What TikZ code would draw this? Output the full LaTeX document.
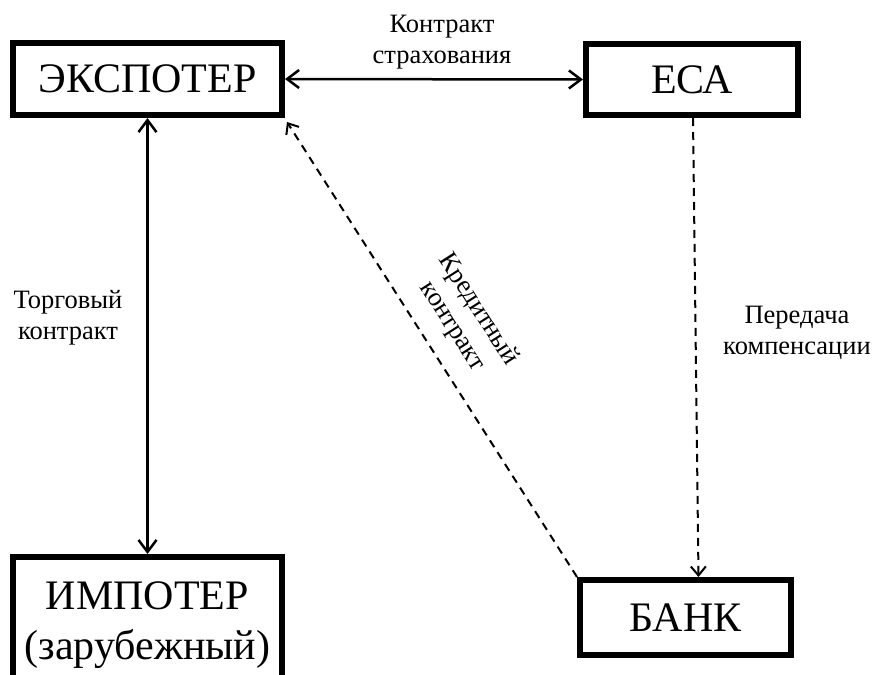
\documentclass[tikz,border=0pt]{standalone}
\usepackage{fontspec}
\setmainfont{Liberation Serif}
\usetikzlibrary{arrows.meta}
\begin{document}
\begin{tikzpicture}[x=1pt,y=-1pt,
  party/.style={draw, line width=6pt, rectangle, inner sep=0pt,
    font=\fontsize{42}{50}\selectfont, align=center},
  caption/.style={font=\fontsize{26.5}{31}\selectfont, align=center, inner sep=0pt},
  solidlink/.style={line width=2.5pt,
    {Straight Barb[length=12pt,width=18pt]}-{Straight Barb[length=12pt,width=18pt]}},
  dashlink/.style={line width=2pt, dash pattern=on 8pt off 6pt,
    -{Straight Barb[length=9pt,width=15pt]}}]
\clip (0,0) rectangle (876,675);

% participants
\node[party, minimum width=269pt, minimum height=72pt] (exp) at (147.5,79) {ЭКСПОТЕР};
\node[party, minimum width=212pt, minimum height=71pt] (eca) at (692,79.5) {ЕСА};
\node[party, minimum width=269pt, minimum height=136pt] (imp) at (147.5,625) {ИМПОТЕР\\(зарубежный)};
\node[party, minimum width=211pt, minimum height=75pt] (bank) at (685.5,617.5) {БАНК};

% contracts and flows
\draw[solidlink] (exp.east) -- (eca.west);
\draw[solidlink] (exp.south) -- (imp.north);
\draw[dashlink] ([xshift=1pt]eca.south) -- ([xshift=13pt]bank.north);
\draw[dashlink] (bank.north west) -- ([xshift=2pt,yshift=-4pt]exp.south east);

% captions
\node[caption] (ins) at (442,42) {Контракт\\страхования};
\node[caption] (trade) at (68,318) {Торговый\\контракт};
\node[caption] (comp) at (797,333) {Передача\\компенсации};
\node[caption, rotate=-57.5] (credit) at (465,318) {Кредитный\\контракт};
\end{tikzpicture}
\end{document}
